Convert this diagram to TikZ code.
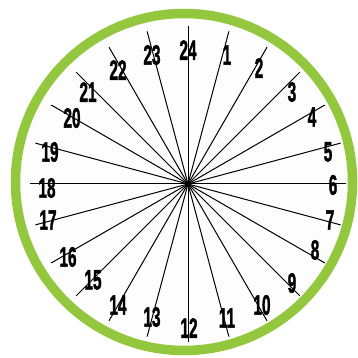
\documentclass[tikz,border=0pt]{standalone}
\usepackage{fontspec}
\setmainfont{Liberation Sans}
\newfontfamily\numfont{Liberation Sans}[FakeBold=1.8]
\definecolor{ringgreen}{HTML}{93C83E}
\definecolor{faceWhite}{HTML}{FDFDFD}
\begin{document}
\begin{tikzpicture}[x=1pt,y=1pt,
  num/.style={font=\numfont\fontsize{28}{28}\selectfont\bfseries, inner sep=0pt, text=black},
  spoke/.style={line width=1pt, draw=black},
  ring/.style={draw=ringgreen, line width=9.5pt, fill=faceWhite},
  hub/.style={circle, fill=black, inner sep=0pt, minimum size=3.5pt}]
\useasboundingbox[fill=white] (0,0) rectangle (357,358);
\draw[ring] (184,176) circle (168.5);
\coordinate (c) at (188,174);
\foreach \i in {1,...,24} {
  \path (c) ++({90-15*\i}:158) coordinate (e\i);
  \draw[spoke] (c) -- (e\i);
}
\node[hub] (h) at (c) {};
\foreach \i/\x/\y in {24/188/308, 1/227/303, 2/259/290, 3/292/266, 4/312/241,
  5/328/206, 6/333/173, 7/330/138, 8/315/108, 9/292/75, 10/262/53, 11/227/40,
  12/189/30, 13/152/41, 14/118/53, 15/93/78, 16/68/101, 17/48/138, 18/47/170,
  19/50/206, 20/72/240, 21/88/266, 22/118/288, 23/152/303} {
  \node[num] (n\i) at (\x,\y) {\scalebox{0.55}[1]{\i}};
}
\end{tikzpicture}
\end{document}
